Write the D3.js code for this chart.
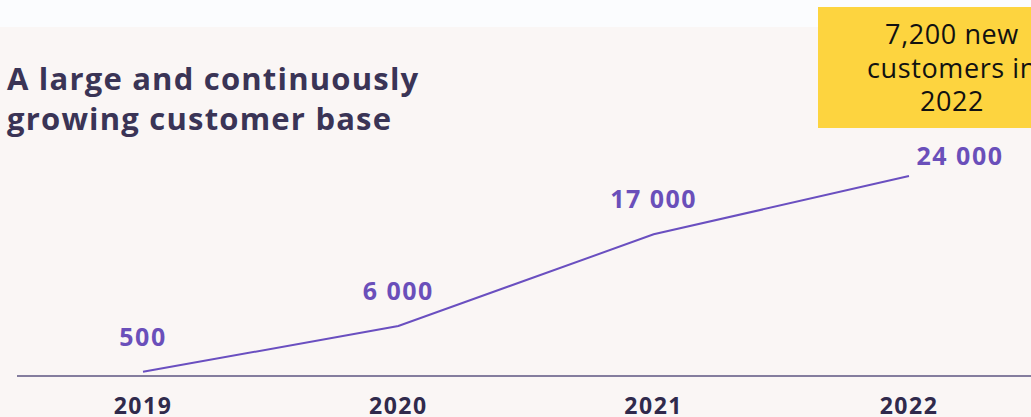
<!DOCTYPE html>
<html>
<head>
<meta charset="utf-8">
<script src="https://cdn.jsdelivr.net/npm/d3@7"></script>
<style>
  body { margin: 0; background: #faf6f5; overflow: hidden; }
  svg { display: block; }
</style>
</head>
<body>
<div id="chart"></div>
<script>
const years = ["2019", "2020", "2021", "2022"];
const customers = [500, 6000, 17000, 24000];
const valueLabels = ["500", "6 000", "17 000", "24 000"];
const titleLines = ["A large and continuously", "growing customer base"];
const noteLines = ["7,200 new", "customers in", "2022"];

const width = 1031, height = 417;
const font = "'Open Sans', sans-serif";

const svg = d3.select("#chart").append("svg")
  .attr("width", width)
  .attr("height", height);

// background: thin light strip on top, warm tint below
svg.append("rect").attr("width", width).attr("height", 27).attr("fill", "#fbfcfe");
svg.append("rect").attr("y", 27).attr("width", width).attr("height", height - 27).attr("fill", "#faf6f5");

const x = d3.scalePoint().domain(years).range([143, 909]);
const y = d3.scaleLinear().domain([0, 24000]).range([376, 176]);

const data = years.map((d, i) => ({ year: d, value: customers[i], label: valueLabels[i] }));

// title
svg.append("text")
  .attr("x", 7)
  .attr("y", 90)
  .style("font-family", font)
  .style("font-weight", 700)
  .style("font-size", "31px")
  .style("letter-spacing", "1.2px")
  .attr("fill", "#3a3456")
  .selectAll("tspan")
  .data(titleLines)
  .enter().append("tspan")
  .attr("x", 7)
  .attr("dy", (d, i) => i ? 40 : 0)
  .text(d => d);

// callout box
svg.append("rect")
  .attr("x", 818).attr("y", 7)
  .attr("width", 268).attr("height", 121)
  .attr("fill", "#fdd43f");

svg.append("g").selectAll("text")
  .data(noteLines)
  .enter().append("text")
  .attr("x", 952)
  .attr("y", (d, i) => 44 + i * 33.5)
  .attr("text-anchor", "middle")
  .style("font-family", font)
  .style("font-size", "27px")
  .style("letter-spacing", "0.6px")
  .attr("fill", "#111111")
  .text(d => d);

// baseline
svg.append("line")
  .attr("x1", 17).attr("x2", width)
  .attr("y1", y(0)).attr("y2", y(0))
  .attr("stroke", "#5c5480")
  .attr("stroke-width", 1.5);

// line
svg.append("path")
  .datum(data)
  .attr("fill", "none")
  .attr("stroke", "#6a4fc0")
  .attr("stroke-width", 2)
  .attr("d", d3.line().x(d => x(d.year)).y(d => y(d.value)));

// value labels
svg.append("g").selectAll("text")
  .data(data)
  .enter().append("text")
  .attr("x", (d, i) => x(d.year) + (i === 3 ? 51 : 0))
  .attr("y", (d, i) => y(d.value) - (i === 3 ? 11 : 26))
  .attr("text-anchor", "middle")
  .style("font-family", font)
  .style("font-weight", 700)
  .style("font-size", "25px")
  .style("letter-spacing", "1.5px")
  .attr("fill", "#6a4fba")
  .text(d => d.label);

// year labels
svg.append("g").selectAll("text")
  .data(years)
  .enter().append("text")
  .attr("x", d => x(d))
  .attr("y", 414)
  .attr("text-anchor", "middle")
  .style("font-family", font)
  .style("font-weight", 700)
  .style("font-size", "23px")
  .style("letter-spacing", "1.5px")
  .attr("fill", "#302a4c")
  .text(d => d);
</script>
</body>
</html>
